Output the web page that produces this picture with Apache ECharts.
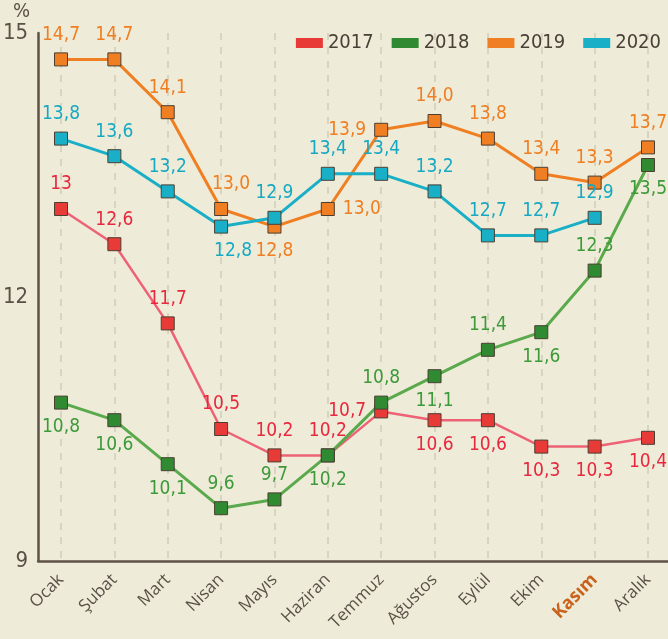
<!DOCTYPE html>
<html>
<head>
<meta charset="utf-8">
<script src="https://cdn.jsdelivr.net/npm/echarts@6/dist/echarts.min.js"></script>
<style>
  html, body { margin: 0; padding: 0; background: #eeecd8; }
  #chart { width: 668px; height: 639px; }
</style>
</head>
<body>
<div id="chart"></div>
<script>
const months = ['Ocak', 'Şubat', 'Mart', 'Nisan', 'Mayıs', 'Haziran', 'Temmuz', 'Ağustos', 'Eylül', 'Ekim', 'Kasım', 'Aralık']
const yTicks = [9, 12, 15]
const v2017 = [13, 12.6, 11.7, 10.5, 10.2, 10.2, 10.7, 10.6, 10.6, 10.3, 10.3, 10.4]
const v2018 = [10.8, 10.6, 10.1, 9.6, 9.7, 10.2, 10.8, 11.1, 11.4, 11.6, 12.3, 13.5]
const v2019 = [14.7, 14.7, 14.1, 13.0, 12.8, 13.0, 13.9, 14.0, 13.8, 13.4, 13.3, 13.7]
const v2020 = [13.8, 13.6, 13.2, 12.8, 12.9, 13.4, 13.4, 13.2, 12.7, 12.7, 12.9, null]

// where each value label sits
const lab2017 = ['top', 'top', 'top', 'top', 'top', 'top', 'left', 'bottom', 'bottom', 'bottom', 'bottom', 'bottom']
const lab2018 = ['bottom', 'bottom', 'bottom', 'top', 'top', 'bottom', 'top', 'bottom', 'top', 'bottom', 'top', 'bottom']
const lab2019 = ['top', 'top', 'top', 'top', 'bottom', 'right', 'left', 'top', 'top', 'top', 'top', 'top']
const lab2020 = ['top', 'top', 'top', 'bottom', 'top', 'top', 'top', 'top', 'top', 'top', 'top', 'top']
// small sideways nudges of some labels
const nudge2019 = [0, 0, 0, 10, 0, 0, 0, 0, 0, 0, 0, 0]
const nudge2020 = [0, 0, 0, 12, 0, 0, 0, 0, 0, 0, 0, 0]
const nudge0 = [0, 0, 0, 0, 0, 0, 0, 0, 0, 0, 0, 0]

const numFont = "'DejaVu Sans Condensed', sans-serif"
const textCol = '#5a5048'

function fmt(v, keepInt) {
  if (keepInt && Number.isInteger(v)) return String(v)
  return v.toFixed(1).replace('.', ',')
}

function makeSeries(name, vals, pos, nudge, lineCol, markCol, labCol, lw, keepInt) {
  return {
    name: name,
    type: 'line',
    xAxisIndex: 0,
    yAxisIndex: 0,
    symbol: 'rect',
    symbolSize: 13,
    itemStyle: { color: markCol, borderColor: '#4b3f32', borderWidth: 1 },
    lineStyle: { color: lineCol, width: lw },
    data: vals.map((v, i) => v == null ? null : {
      value: v,
      label: { position: pos[i], offset: [nudge[i], 0] }
    }),
    label: {
      show: true,
      color: labCol,
      fontFamily: numFont,
      fontSize: 19,
      distance: 8,
      formatter: p => fmt(p.value, keepInt)
    }
  }
}

const Chart = echarts.init(document.getElementById('chart'))
Chart.setOption({
  backgroundColor: '#eeecd8',
  animation: false,
  legend: {
    right: 2,
    top: 28,
    icon: 'rect',
    itemWidth: 27,
    itemHeight: 10,
    itemGap: 18,
    itemStyle: { borderWidth: 0 },
    textStyle: { color: '#4a4038', fontSize: 20, fontFamily: numFont },
    data: ['2017', '2018', '2019', '2020']
  },
  grid: [
    { left: 61, right: 20, top: 33, bottom: 78 },
    { left: 35, right: 0, top: 33, bottom: 78 }
  ],
  xAxis: [{
    gridIndex: 0,
    type: 'category',
    boundaryGap: false,
    data: months,
    axisLine: { show: false },
    axisTick: { show: false },
    splitLine: { show: true, lineStyle: { color: '#cfcbb8', type: [7, 7], width: 1.5 } },
    axisLabel: {
      rotate: 45,
      margin: 16,
      fontFamily: "'Open Sans', sans-serif",
      fontSize: 17,
      color: textCol,
      formatter: v => v === 'Kasım' ? '{k|' + v + '}' : v,
      rich: {
        k: { color: '#c8621c', fontWeight: 'bold', fontSize: 18, fontFamily: "'Open Sans', sans-serif" }
      }
    }
  }, {
    gridIndex: 1,
    type: 'value',
    min: 0,
    max: 1,
    axisLine: { show: true, lineStyle: { color: '#5e5247', width: 2.5 } },
    axisTick: { show: false },
    axisLabel: { show: false },
    splitLine: { show: false }
  }],
  yAxis: [{
    gridIndex: 0,
    type: 'value',
    min: 9,
    max: 15,
    interval: 3,
    show: false
  }, {
    gridIndex: 1,
    type: 'value',
    min: yTicks[0],
    max: yTicks[yTicks.length - 1],
    interval: 3,
    name: '%',
    nameLocation: 'end',
    nameGap: 8,
    nameTextStyle: { color: textCol, fontSize: 20, fontFamily: numFont, align: 'right', padding: [0, 8, 0, 0] },
    axisLine: { show: true, lineStyle: { color: '#5e5247', width: 2.5 } },
    axisTick: { show: false },
    splitLine: { show: false },
    axisLabel: { color: textCol, fontSize: 22, fontFamily: numFont, margin: 10 }
  }],
  series: [
    makeSeries('2017', v2017, lab2017, nudge0, '#ee6276', '#e83a36', '#e8283e', 2.5, true),
    makeSeries('2018', v2018, lab2018, nudge0, '#5aa94c', '#2f8a32', '#3d9a3a', 3, false),
    makeSeries('2019', v2019, lab2019, nudge2019, '#f07e22', '#f07e22', '#f07e22', 3, false),
    makeSeries('2020', v2020, lab2020, nudge2020, '#19afc7', '#19afc7', '#17a9c4', 3, false)
  ],
  color: ['#e83a3e', '#3a9a3c', '#f07e22', '#19b3cc']
})
</script>
</body>
</html>
